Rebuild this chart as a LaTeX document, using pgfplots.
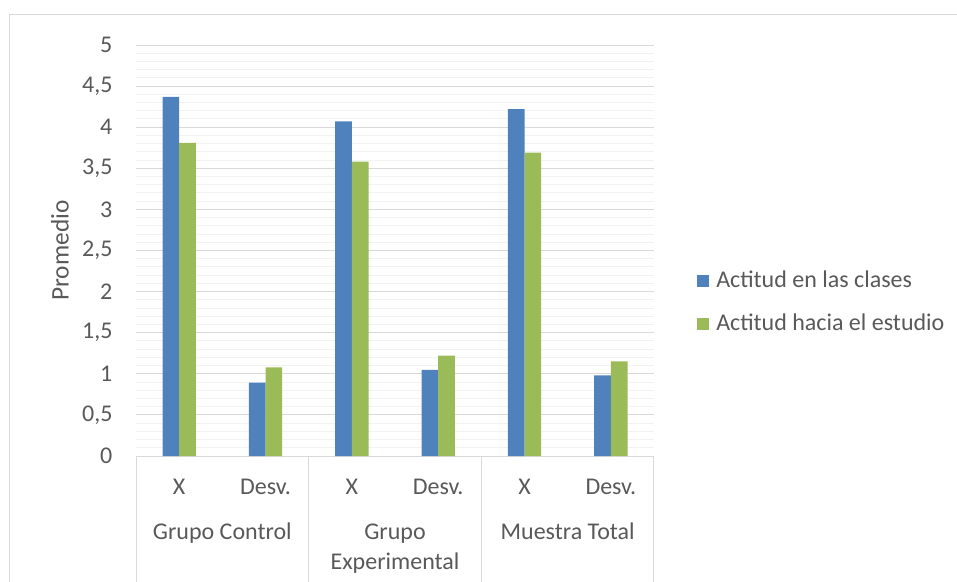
\documentclass[border=0pt]{standalone}
\usepackage{pgfplots}
\pgfplotsset{compat=1.18}
\usepackage{fontspec}
\setmainfont{Carlito}
\definecolor{barblue}{HTML}{4F81BD}
\definecolor{bargreen}{HTML}{9BBB59}
\definecolor{txt}{HTML}{595959}
\definecolor{majgrid}{HTML}{D9D9D9}
\definecolor{mingrid}{HTML}{F2F2F2}
\newcommand{\chf}{\fontsize{18}{21.6}\selectfont}
\begin{document}
\chf
\begin{tikzpicture}
\path[use as bounding box] (0,0) rectangle (717.75pt,436.5pt);
\draw[majgrid, line width=0.75pt] (7.125pt,0) -- (7.125pt,425.25pt) -- (717.75pt,425.25pt);
\begin{axis}[
 at={(102pt,94.5pt)}, anchor=south west,
 scale only axis, width=388.5pt, height=308.25pt,
 ybar=0pt, bar width=12.5pt,
 xmin=-0.5, xmax=5.5, ymin=0, ymax=5,
 xtick={0,1,2,3,4,5}, xticklabels={X,Desv.,X,Desv.,X,Desv.},
 ytick={0,0.5,1,1.5,2,2.5,3,3.5,4,4.5,5}, minor y tick num=4,
 ymajorgrids, yminorgrids,
 major grid style={majgrid, line width=0.75pt},
 minor grid style={mingrid, line width=0.75pt},
 axis x line*=bottom, axis y line*=left,
 x axis line style={majgrid, line width=0.75pt, -},
 y axis line style={draw=none},
 tick style={draw=none}, minor tick style={draw=none},
 /pgf/number format/.cd, use comma, 1000 sep={}, assume math mode=true,
 /pgfplots/.cd,
 tick label style={txt, font=\chf},
 yticklabel style={anchor=east, inner sep=0pt, xshift=-17.5pt},
 xticklabel style={anchor=base, inner sep=0pt, yshift=-24.5pt},
 ylabel={Promedio},
 ylabel style={at={(axis description cs:-0.1467,0.5)}, anchor=center, txt, font=\fontsize{19}{22}\selectfont},
 clip=false,
 legend cell align=left,
 legend style={at={(axis description cs:1.083,0.3735)}, anchor=west, draw=none, fill=none, inner sep=0pt,
   font=\chf, text=txt, row sep=17.25pt,
   nodes={inner sep=0pt},
   /tikz/every odd column/.append style={column sep=5.25pt}},
 legend image code/.code={\fill[#1] (0pt,-4.5pt) rectangle (9pt,4.5pt);},
]
\addplot[fill=barblue, draw=none] coordinates {(0,4.37) (1,0.894) (2,4.07) (3,1.047) (4,4.22) (5,0.982)};
\addplot[fill=bargreen, draw=none] coordinates {(0,3.81) (1,1.077) (2,3.58) (3,1.222) (4,3.69) (5,1.152)};
\legend{Actitud en las clases, Actitud hacia el estudio}
\draw[majgrid, line width=0.75pt] (axis cs:-0.5,0) -- ([yshift=-94.5pt]axis cs:-0.5,0);
\draw[majgrid, line width=0.75pt] (axis cs:1.5,0) -- ([yshift=-94.5pt]axis cs:1.5,0);
\draw[majgrid, line width=0.75pt] (axis cs:3.5,0) -- ([yshift=-94.5pt]axis cs:3.5,0);
\draw[majgrid, line width=0.75pt] (axis cs:5.5,0) -- ([yshift=-94.5pt]axis cs:5.5,0);
\node[anchor=base, txt, inner sep=0pt, yshift=-62.25pt] at (axis cs:0.5,0) {Grupo Control};
\node[anchor=base, txt, inner sep=0pt, yshift=-62.25pt] at (axis cs:2.5,0) {Grupo};
\node[anchor=base, txt, inner sep=0pt, yshift=-84.75pt] at (axis cs:2.5,0) {Experimental};
\node[anchor=base, txt, inner sep=0pt, yshift=-62.25pt] at (axis cs:4.5,0) {Muestra Total};
\end{axis}
\end{tikzpicture}
\end{document}
